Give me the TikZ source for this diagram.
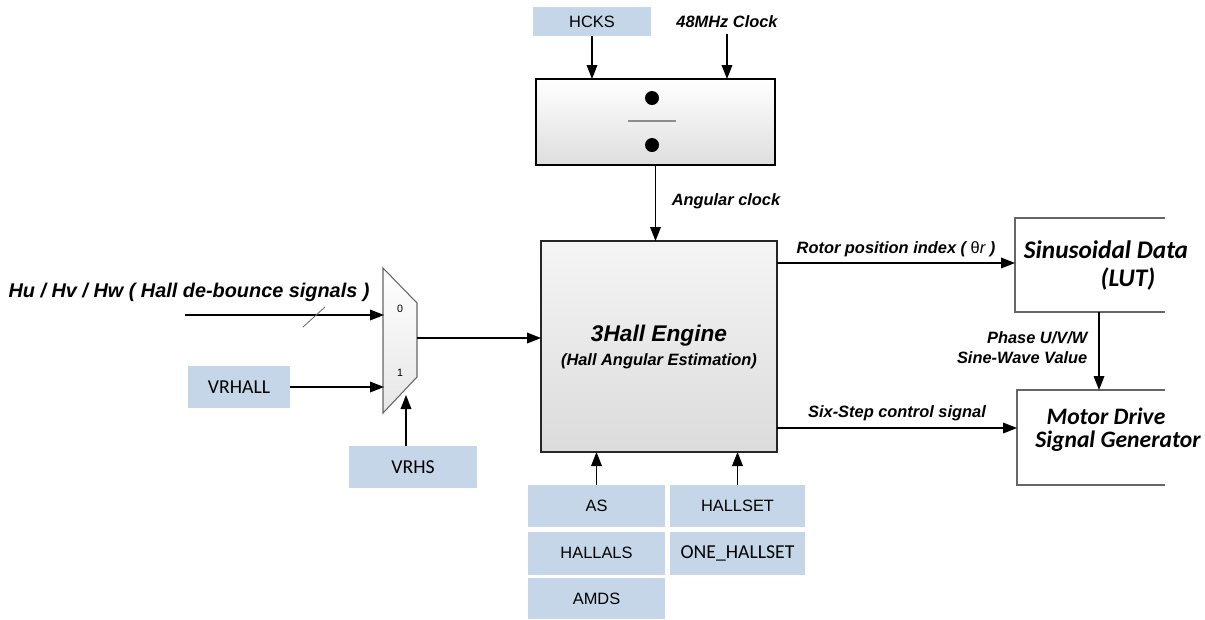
\documentclass[tikz,border=0pt]{standalone}
\usepackage{fontspec}
\setmainfont{Liberation Sans}
\newfontfamily\calfont{Carlito}
\usetikzlibrary{arrows.meta}
\definecolor{hblue}{RGB}{196,214,231}
\tikzset{
  >={Triangle[length=10.5pt,width=8pt]},
  lbl/.style={font=\fontsize{12.3}{15}\selectfont\bfseries\itshape, inner sep=0pt},
  bigl/.style={font=\calfont\fontsize{#1}{21}\selectfont\bfseries\itshape, inner sep=0pt},
  reg/.style 2 args={fill=hblue, inner sep=0pt, outer sep=0pt,
    minimum width=#1*0.75pt, minimum height=#2*0.75pt, font=\fontsize{12.3}{15}\selectfont},
  calreg/.style 2 args={reg={#1}{#2}, font=\calfont\fontsize{14.8}{17}\selectfont},
  blk/.style 2 args={inner sep=0pt, outer sep=0pt,
    minimum width=#1*0.75pt, minimum height=#2*0.75pt},
}
\begin{document}
\begin{tikzpicture}[x=0.75pt, y=-0.75pt, line width=1pt]

  \useasboundingbox (0,0) rectangle (1205,619);

  %% clock divider
  \node[reg={118}{29}] (hcks) at (592,21.5) {HCKS};
  \node[lbl] (clk48) at (727,22) {48MHz Clock};
  \node[blk={239}{86}, draw, line width=1.2pt, top color=white, bottom color=black!13] (divd) at (655.5,122) {};
  \node[circle, fill=black, minimum size=10.5pt, inner sep=0pt] (dtop) at (652,98) {};
  \node[circle, fill=black, minimum size=10.5pt, inner sep=0pt] (dbot) at (652,145) {};
  \draw[black!45, line width=0.8pt] (628,121) -- (676,121);

  \draw[->] (hcks) -- (hcks |- divd.north); %% HCKS->div
  \draw[->] ([yshift=-4pt]clk48.south) -- (clk48 |- divd.north); %% clock->div

  %% engine
  \node[blk={236}{211}, draw=black!85, line width=1.3pt, top color=black!4, bottom color=black!14,
    align=center, font=\fontsize{17}{17}\selectfont\bfseries\itshape] (eng) at (659,346.5)
    {3Hall Engine\\[1pt]{\fontsize{12.3}{15}\selectfont (Hall Angular Estimation)}};
  \draw[->] (divd.south) -- (divd.south |- eng.north); %% div->engine
  \node[lbl] (angclk) at (726,201) {Angular clock};

  %% mux
  \coordinate (mux0) at (384,315);
  \coordinate (mux1) at (384,385);
  \coordinate (muxo) at (417,338);
  \coordinate (muxs) at (406,395);
  \draw[black!60, line width=0.8pt, top color=white, bottom color=black!10]
    (383,268) -- (417,303) -- (417,377) -- (383,413) -- cycle;
  \node[font=\fontsize{8}{9}\selectfont] (sel0) at (400,309) {0};
  \node[font=\fontsize{8}{9}\selectfont] (sel1) at (400,373) {1};

  \node[font=\fontsize{14.9}{17}\selectfont\bfseries\itshape, inner sep=0pt] (hall) at (189,292)
    {Hu / Hv / Hw ( Hall de-bounce signals )};
  \coordinate (hin) at (185,315);
  \draw[->] (hin) -- (mux0); %% Hu/Hv/Hw->mux
  \draw[black!60, line width=0.6pt] (303,327) -- (325,307);

  \node[calreg={102}{42}] (vrhall) at (239,387) {VRHALL};
  \draw[->] (vrhall) -- (vrhall -| mux1); %% VRHALL->mux
  \node[calreg={128}{42}] (vrhs) at (413,467) {VRHS};
  \draw[->] (vrhs.north -| muxs) -- (muxs); %% VRHS->mux
  \draw[->] (muxo) -- (muxo -| eng.west); %% mux->engine

  %% register boxes
  \node[reg={137}{42}] (as) at (596.5,506) {AS};
  \node[reg={137}{43}] (hallals) at (596.5,553) {HALLALS};
  \node[reg={137}{41}] (amds) at (596.5,598.5) {AMDS};
  \node[reg={135}{42}] (hallset) at (737.5,506) {HALLSET};
  \node[calreg={135}{43}] (onehall) at (737.5,553) {ONE\_HALLSET};
  \draw[->] (as) -- (as |- eng.south); %% AS->engine
  \draw[->] (hallset) -- (hallset |- eng.south); %% HALLSET->engine

  %% outputs
  \node[blk={150}{94}] (lut) at (1090,265) {};
  \draw[black!60] (lut.north east) -- (lut.north west) -- (lut.south west) -- (lut.south east);
  \node[bigl=19] (luta) at (1106,250) {Sinusoidal Data};
  \node[bigl=19] (lutb) at (1128,279) {(LUT)};

  \node[blk={148}{95}] (mdrv) at (1091,437.5) {};
  \draw[black!60] (mdrv.north east) -- (mdrv.north west) -- (mdrv.south west) -- (mdrv.south east);
  \node[bigl=17.7] (mdra) at (1106,416) {Motor Drive};
  \node[bigl=17.7] (mdrb) at (1118,441) {Signal Generator};

  \draw[->] (eng.east |- 0,263) -- (lut.west |- 0,263)
    node[lbl, midway, above=4pt] {Rotor position index ( {\mdseries\upshape θ}{\mdseries r} )}; %% engine->LUT
  \draw[->] (eng.east |- 0,428) -- (mdrv.west |- 0,428)
    node[lbl, midway, above=5pt] {Six-Step control signal}; %% engine->drive
  \draw[->] (lut.south -| 1099,0) -- (mdrv.north -| 1099,0); %% LUT->drive
  \node[lbl, align=right, anchor=east] (phase) at (1088,348) {Phase U/V/W\\Sine-Wave Value};

\end{tikzpicture}
\end{document}
